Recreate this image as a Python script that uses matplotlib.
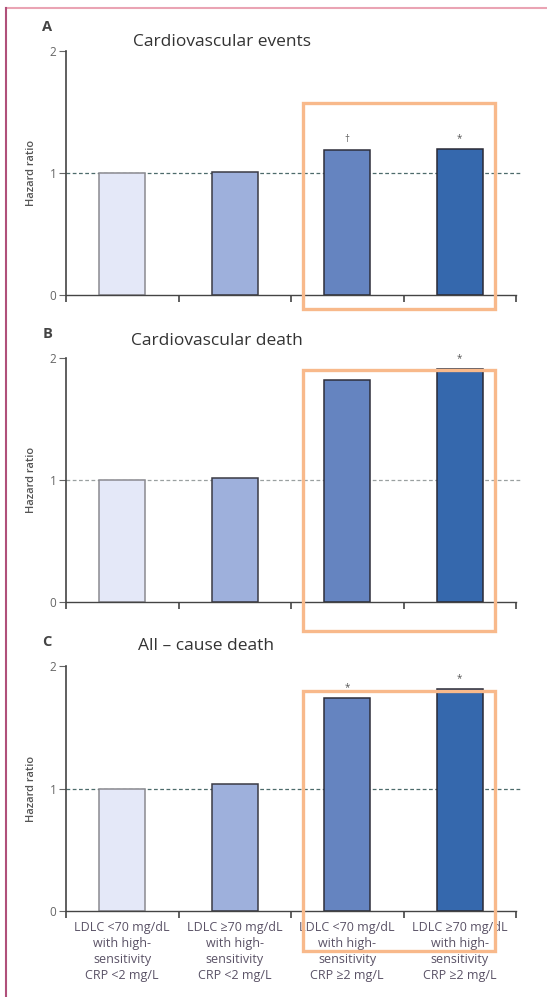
import matplotlib
matplotlib.use('Agg')
import matplotlib.pyplot as plt
from matplotlib.patches import Rectangle
from matplotlib.lines import Line2D
import numpy as np

plt.rcParams['font.family'] = ['Open Sans', 'DejaVu Sans']

# Data
groups = ['LDLC <70 mg/dL\nwith high-\nsensitivity\nCRP <2 mg/L',
          'LDLC \u226570 mg/dL\nwith high-\nsensitivity\nCRP <2 mg/L',
          'LDLC <70 mg/dL\nwith high-\nsensitivity\nCRP \u22652 mg/L',
          'LDLC \u226570 mg/dL\nwith high-\nsensitivity\nCRP \u22652 mg/L']
panel_letters = ['A', 'B', 'C']
panel_titles = ['Cardiovascular events', 'Cardiovascular death', 'All \u2013 cause death']
hr_events = [1.00, 1.01, 1.19, 1.20]
hr_cv_death = [1.00, 1.02, 1.82, 1.91]
hr_all_death = [1.00, 1.04, 1.74, 1.81]
marks_events = ['', '', '\u2020', '*']
marks_cv_death = ['', '', '', '*']
marks_all_death = ['', '', '*', '*']

bar_colors = ['#e4e8f8', '#9eb0dc', '#6584c0', '#3568ad']
edge_colors = ['#8a8a90', '#3a3a44', '#2e2e3a', '#2a2a36']

W, H = 547, 997
fig = plt.figure(figsize=(W / 100, H / 100), dpi=100)

# axes placement in pixels: (top y for HR=2, bottom y for HR=0)
left_px, right_px = 66, 516
panels_px = [(51, 295), (358, 602), (666, 911)]
# highlight boxes (data coords, per panel): y range
box_y = [(-0.115, 1.574), (-0.235, 1.90), (-0.327, 1.796)]
# title placement (axes fraction) per panel
title_xy = [(0.347, 1.037), (0.335, 1.07), (0.31, 1.082)]

series = [hr_events, hr_cv_death, hr_all_death]
marks = [marks_events, marks_cv_death, marks_all_death]
dash_colors = ['#4d6b6b', '#9aa0a0', '#4d6b6b']

x = np.arange(len(groups))
for i, (top, bot) in enumerate(panels_px):
    ax = fig.add_axes([left_px / W, 1 - bot / H, (right_px - left_px) / W, (bot - top) / H])
    ax.set_xlim(-0.5, 3.5)
    ax.set_ylim(0, 2)
    ax.axhline(1, xmin=0, xmax=1.01, color=dash_colors[i], lw=0.9, ls=(0, (3, 2)),
               zorder=1, clip_on=False)
    ax.bar(x, series[i], width=0.41, color=bar_colors, edgecolor=edge_colors,
           linewidth=1.1, zorder=2)
    for xi, v, m in zip(x, series[i], marks[i]):
        if m:
            ax.text(xi, v + 0.04, m, ha='center', va='bottom', fontsize=7,
                    color='#555555')
    for s in ['top', 'right']:
        ax.spines[s].set_visible(False)
    ax.spines['left'].set_color('#444444')
    ax.spines['left'].set_linewidth(1.2)
    ax.spines['bottom'].set_color('#444444')
    ax.spines['bottom'].set_linewidth(1.0)
    ax.set_yticks([0, 1, 2])
    ax.set_yticklabels(['0', '1', '2'])
    ax.tick_params(axis='y', length=5, width=0.8, color='#666666', labelsize=8.5,
                   labelcolor='#666666', pad=2)
    ax.set_xticks(x)
    ax.set_xticks([-0.5, 0.5, 1.5, 2.5, 3.5], minor=True)
    ax.tick_params(axis='x', which='major', length=0)
    ax.tick_params(axis='x', which='minor', length=5, width=1.2, color='#444444',
                   direction='out')
    if i == 2:
        ax.set_xticklabels(groups, fontsize=9, color='#5a5266', linespacing=1.3)
        ax.tick_params(axis='x', which='major', pad=7)
    else:
        ax.set_xticklabels([])
    ax.set_ylabel('Hazard ratio', fontsize=8, color='#555555', fontweight='semibold',
                  labelpad=9)
    ax.text(-0.042, 1.1, panel_letters[i], transform=ax.transAxes, fontsize=10.5,
            fontweight='bold', color='#444444', ha='center', va='center')
    tx, ty = title_xy[i]
    ax.text(tx, ty, panel_titles[i], transform=ax.transAxes,
            fontsize=12.5, color='#333333', ha='center', va='center')
    by0, by1 = box_y[i]
    ax.add_patch(Rectangle((1.607, by0), 3.313 - 1.607, by1 - by0, fill=False,
                           edgecolor='#f8b98b', linewidth=2.4, clip_on=False,
                           zorder=5))

# page frame
fig.add_artist(Line2D([6 / W, 1], [1 - 8 / H, 1 - 8 / H], color='#eaa4b4', lw=1.5))
fig.add_artist(Line2D([6 / W, 6 / W], [0, 1 - 8 / H], color='#b0507a', lw=1.5))

fig.savefig('out.png', dpi=100)
